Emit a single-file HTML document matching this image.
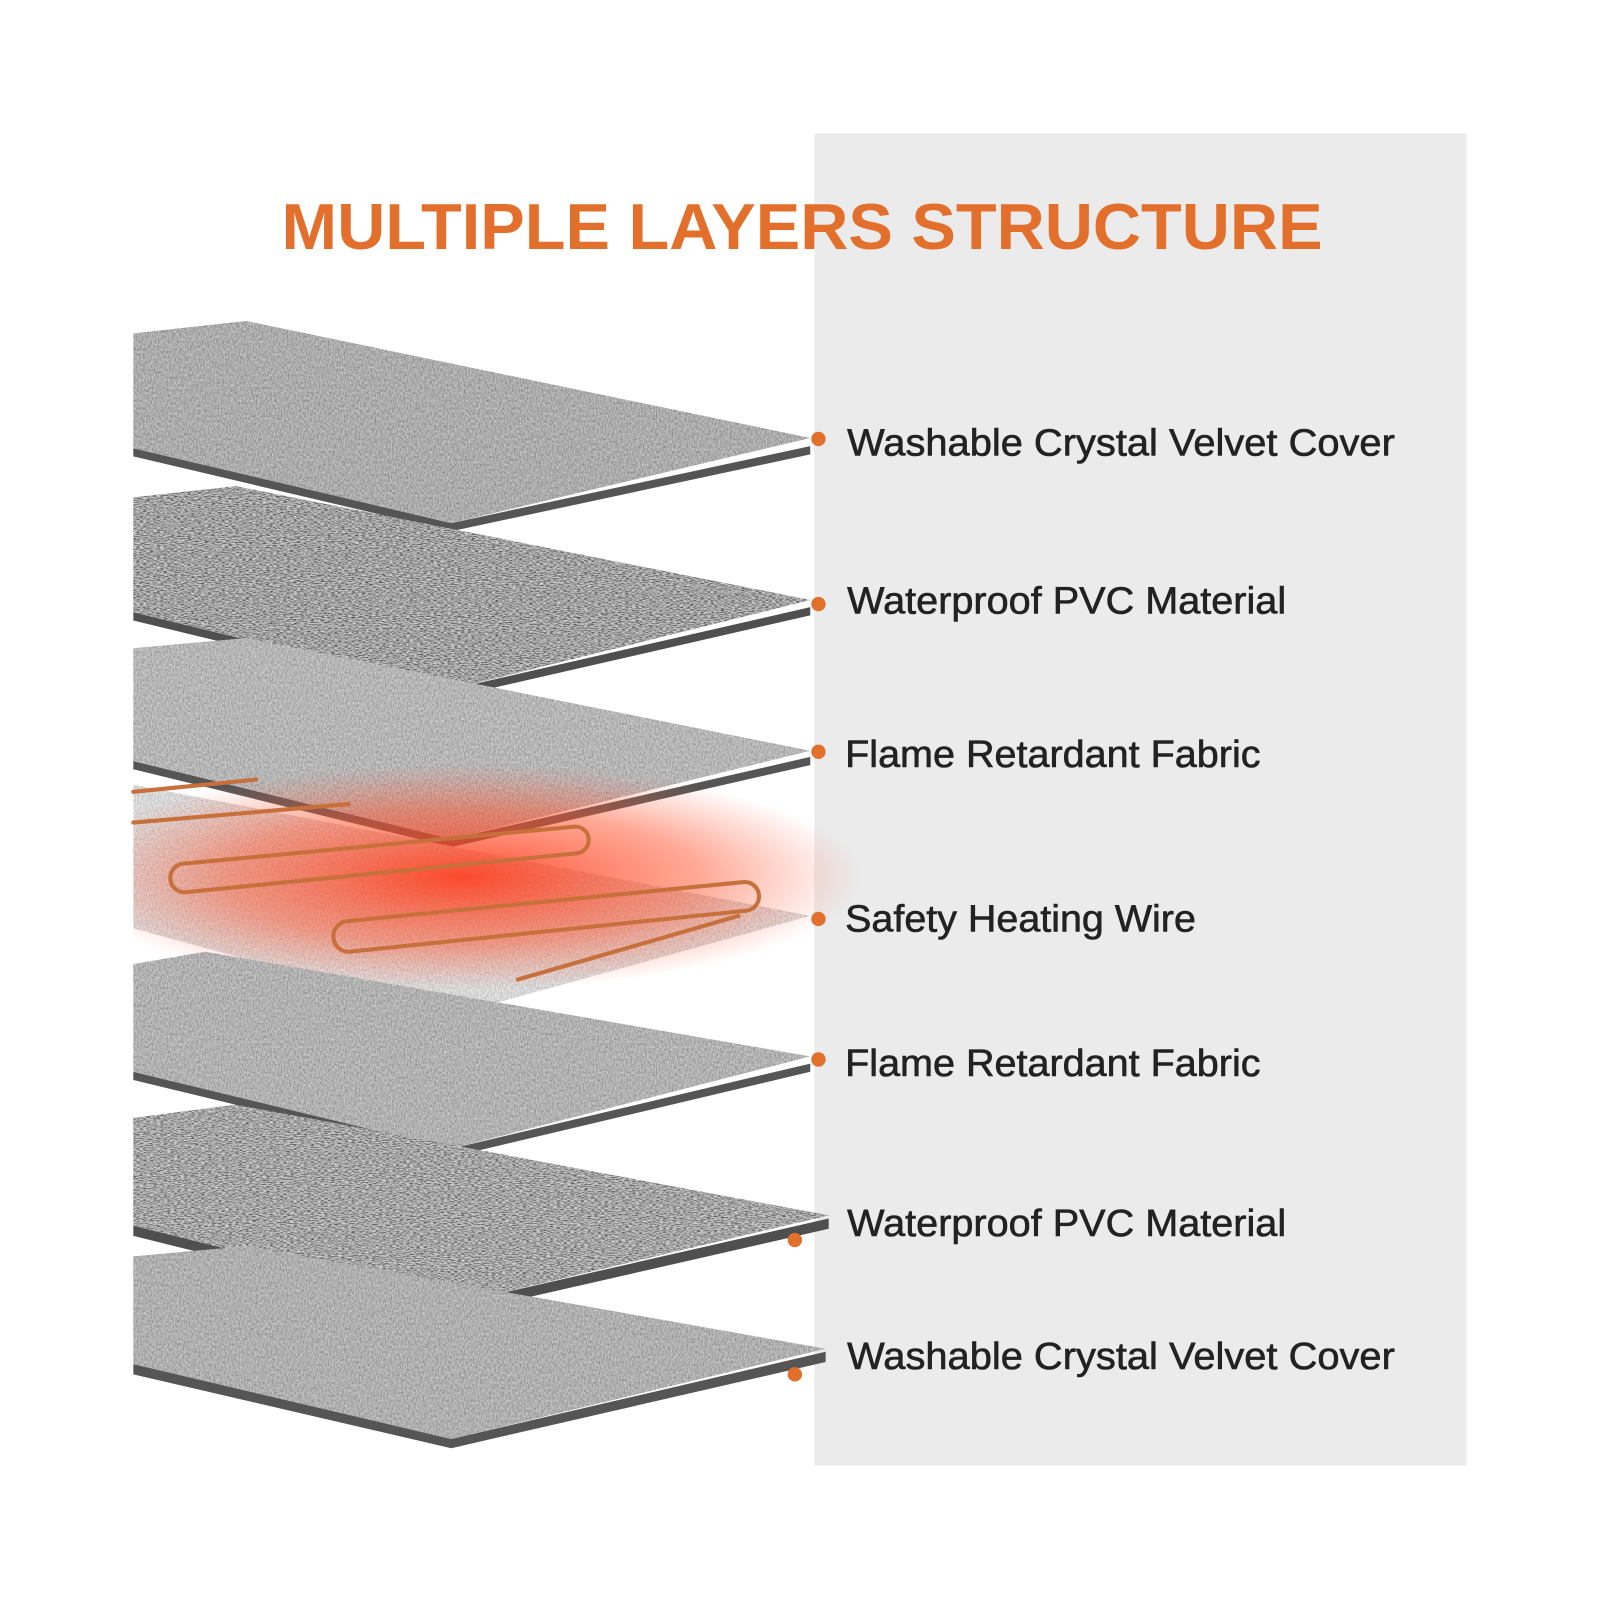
<!DOCTYPE html>
<html><head><meta charset="utf-8"><style>
html,body{margin:0;padding:0;background:#fff;}
svg{display:block;}
</style></head><body>
<svg width="1600" height="1600" viewBox="0 0 1560 1560" xmlns="http://www.w3.org/2000/svg">
<defs>
<filter id="n1" x="0" y="0" width="100%" height="100%">
<feTurbulence type="fractalNoise" baseFrequency="0.7 0.4" numOctaves="2" seed="3" result="t"/>
<feColorMatrix in="t" type="matrix" values="1.6 0 0 0 -0.3  1.6 0 0 0 -0.3  1.6 0 0 0 -0.3  0 0 0 0 0.35" result="m"/>
<feComposite in="m" in2="SourceAlpha" operator="in" result="c"/>
<feMerge><feMergeNode in="SourceGraphic"/><feMergeNode in="c"/></feMerge>
</filter>
<filter id="n2" x="0" y="0" width="100%" height="100%">
<feTurbulence type="fractalNoise" baseFrequency="0.3 1.0" numOctaves="2" seed="7" result="t"/>
<feColorMatrix in="t" type="matrix" values="2.4 0 0 0 -0.7  2.4 0 0 0 -0.7  2.4 0 0 0 -0.7  0 0 0 0 0.55" result="m"/>
<feComposite in="m" in2="SourceAlpha" operator="in" result="c"/>
<feMerge><feMergeNode in="SourceGraphic"/><feMergeNode in="c"/></feMerge>
</filter>
<radialGradient id="glow" cx="0.5" cy="0.5" r="0.5">
<stop offset="0" stop-color="#ff3a1a" stop-opacity="0.9"/>
<stop offset="0.6" stop-color="#ff5530" stop-opacity="0.5"/>
<stop offset="1" stop-color="#ff6a50" stop-opacity="0"/>
</radialGradient>
<clipPath id="cl"><rect x="130" y="700" width="720" height="320"/></clipPath>
</defs>
<rect x="0" y="0" width="1560" height="1560" fill="#fff"/>
<rect x="794" y="130" width="636" height="1299" fill="#ebebeb"/>
<text x="782" y="243" text-anchor="middle" font-family="Liberation Sans, sans-serif" font-weight="bold" font-size="63" fill="#e2702c" textLength="1015" lengthAdjust="spacingAndGlyphs">MULTIPLE LAYERS STRUCTURE</text>

<polygon points="130,437 440,510 790,435 790,443 440,518 130,445" fill="#555"/>
<polygon points="130,325 240,313 790,427 440,510 130,437" fill="#a3a3a3" filter="url(#n1)"/>
<polygon points="130,597 440,672 790,592 790,600 440,680 130,605" fill="#4f4f4f"/>
<polygon points="130,485 230,474 790,585 440,672 130,597" fill="#7c7c7c" filter="url(#n2)"/>
<polygon points="130,742 440,818 790,738 790,746 440,826 130,750" fill="#555"/>
<polygon points="130,632 240,622 790,732 440,818 130,742" fill="#b2b2b2" filter="url(#n1)"/>
<g clip-path="url(#cl)">
<polygon points="130,765 790,893 440,990 130,905" fill="#e4e4e4" filter="url(#n1)"/>
<ellipse cx="450" cy="855" rx="390" ry="110" fill="url(#glow)"/>
</g>
<g fill="none" stroke="#c8703c" stroke-width="4" stroke-linecap="round">
<path d="M130,772 L250,760 M130,802 L340,784"/>
<path d="M180,842 L560,806 A13,13 0 0 1 562,832 L180,870 A14,14 0 0 1 180,842"/>
<path d="M340,898 L725,860 A14,14 0 0 1 727,888 L340,928 A15,15 0 0 1 340,898"/>
<path d="M505,955 L720,893"/>
</g>
<polygon points="130,1045 440,1120 790,1037 790,1045 440,1128 130,1053" fill="#555"/>
<polygon points="130,940 200,928 790,1030 440,1120 130,1045" fill="#acacac" filter="url(#n1)"/>
<polygon points="130,1195 440,1272 808,1188 808,1198 440,1282 130,1205" fill="#4f4f4f"/>
<polygon points="130,1090 230,1077 808,1185 440,1272 130,1195" fill="#868686" filter="url(#n2)"/>
<polygon points="130,1330 440,1403 805,1318 805,1328 440,1412 130,1340" fill="#555"/>
<polygon points="130,1225 240,1215 805,1315 440,1403 130,1330" fill="#a9a9a9" filter="url(#n1)"/>

<g fill="#e2702c">
<circle cx="798" cy="428" r="7"/>
<circle cx="798" cy="589" r="7"/>
<circle cx="798" cy="733" r="7"/>
<circle cx="798" cy="896" r="7"/>
<circle cx="798" cy="1033" r="7"/>
<circle cx="775" cy="1209" r="7"/>
<circle cx="775" cy="1340" r="7"/>
</g>
<g font-family="Liberation Sans, sans-serif" font-size="37" fill="#222" stroke="#222" stroke-width="0.6">
<text x="826" y="444" textLength="534" lengthAdjust="spacingAndGlyphs">Washable Crystal Velvet Cover</text>
<text x="826" y="598" textLength="428" lengthAdjust="spacingAndGlyphs">Waterproof PVC Material</text>
<text x="824" y="748" textLength="405" lengthAdjust="spacingAndGlyphs">Flame Retardant Fabric</text>
<text x="824" y="908" textLength="342" lengthAdjust="spacingAndGlyphs">Safety Heating Wire</text>
<text x="824" y="1049" textLength="405" lengthAdjust="spacingAndGlyphs">Flame Retardant Fabric</text>
<text x="826" y="1205" textLength="428" lengthAdjust="spacingAndGlyphs">Waterproof PVC Material</text>
<text x="826" y="1335" textLength="534" lengthAdjust="spacingAndGlyphs">Washable Crystal Velvet Cover</text>
</g>
</svg>
</body></html>
